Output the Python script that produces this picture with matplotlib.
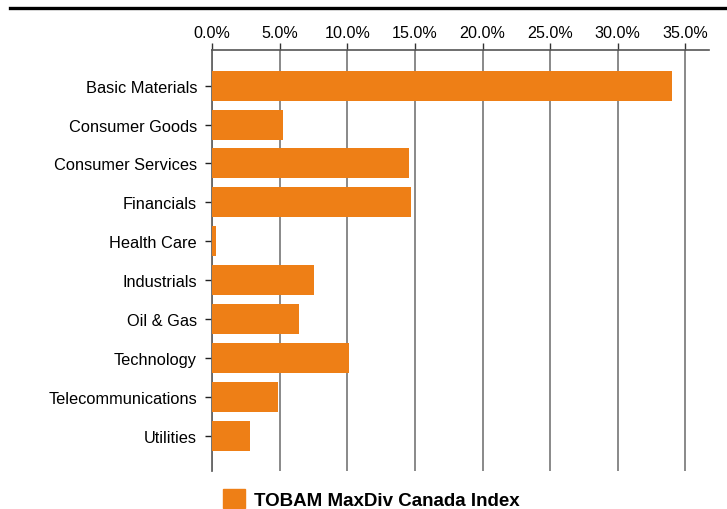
import matplotlib
matplotlib.use("Agg")
import matplotlib.pyplot as plt
from matplotlib.lines import Line2D
from matplotlib.ticker import FuncFormatter

plt.rcParams['font.family'] = ['Liberation Sans', 'DejaVu Sans']

sectors = ["Basic Materials", "Consumer Goods", "Consumer Services", "Financials",
           "Health Care", "Industrials", "Oil & Gas", "Technology",
           "Telecommunications", "Utilities"]
weights = [34.05, 5.25, 14.55, 14.7, 0.3, 7.5, 6.4, 10.1, 4.85, 2.8]
xticks = [0, 5, 10, 15, 20, 25, 30, 35]
series_name = "TOBAM MaxDiv Canada Index"

orange = "#EE7F16"

fig = plt.figure(figsize=(7.27, 5.10), dpi=100)
ax = fig.add_axes([0.292, 0.0745, 0.683, 0.826])

ypos = list(range(len(sectors)))
ax.barh(ypos, weights, height=0.77, color=orange, zorder=3)

ax.set_xlim(0, 36.74)
ax.set_ylim(9.91, -0.925)
ax.set_yticks(ypos)
ax.set_yticklabels(sectors, fontsize=11.8)
ax.set_xticks(xticks)
ax.xaxis.set_major_formatter(FuncFormatter(lambda v, p: "{:.1f}%".format(v)))
ax.xaxis.tick_top()
ax.tick_params(axis='x', labelsize=11.6, direction='out', length=5, width=1,
               color='#333333', pad=2)
ax.tick_params(axis='y', direction='out', length=5, width=1, color='#222222', pad=6)

ax.grid(axis='x', color='#808080', linewidth=1.3, zorder=1)
for s in ['right', 'bottom']:
    ax.spines[s].set_visible(False)
ax.spines['top'].set_color('#555555')
ax.spines['top'].set_linewidth(1.2)
ax.spines['left'].set_color('#666666')
ax.spines['left'].set_linewidth(1.3)

# thick rule at the very top
fig.add_artist(Line2D([10 / 727, 1], [0.982, 0.982], color='black', linewidth=2.4))

handle = plt.Rectangle((0, 0), 1, 1, color=orange)
fig.legend([handle], [series_name], loc='center left',
           bbox_to_anchor=(223 / 727, 1 - 500 / 510),
           frameon=False, borderpad=0, borderaxespad=0,
           handlelength=1.15, handleheight=1.15, handletextpad=0.5,
           prop={'weight': 'bold', 'size': 13.5})

fig.savefig("out.png", dpi=100)
